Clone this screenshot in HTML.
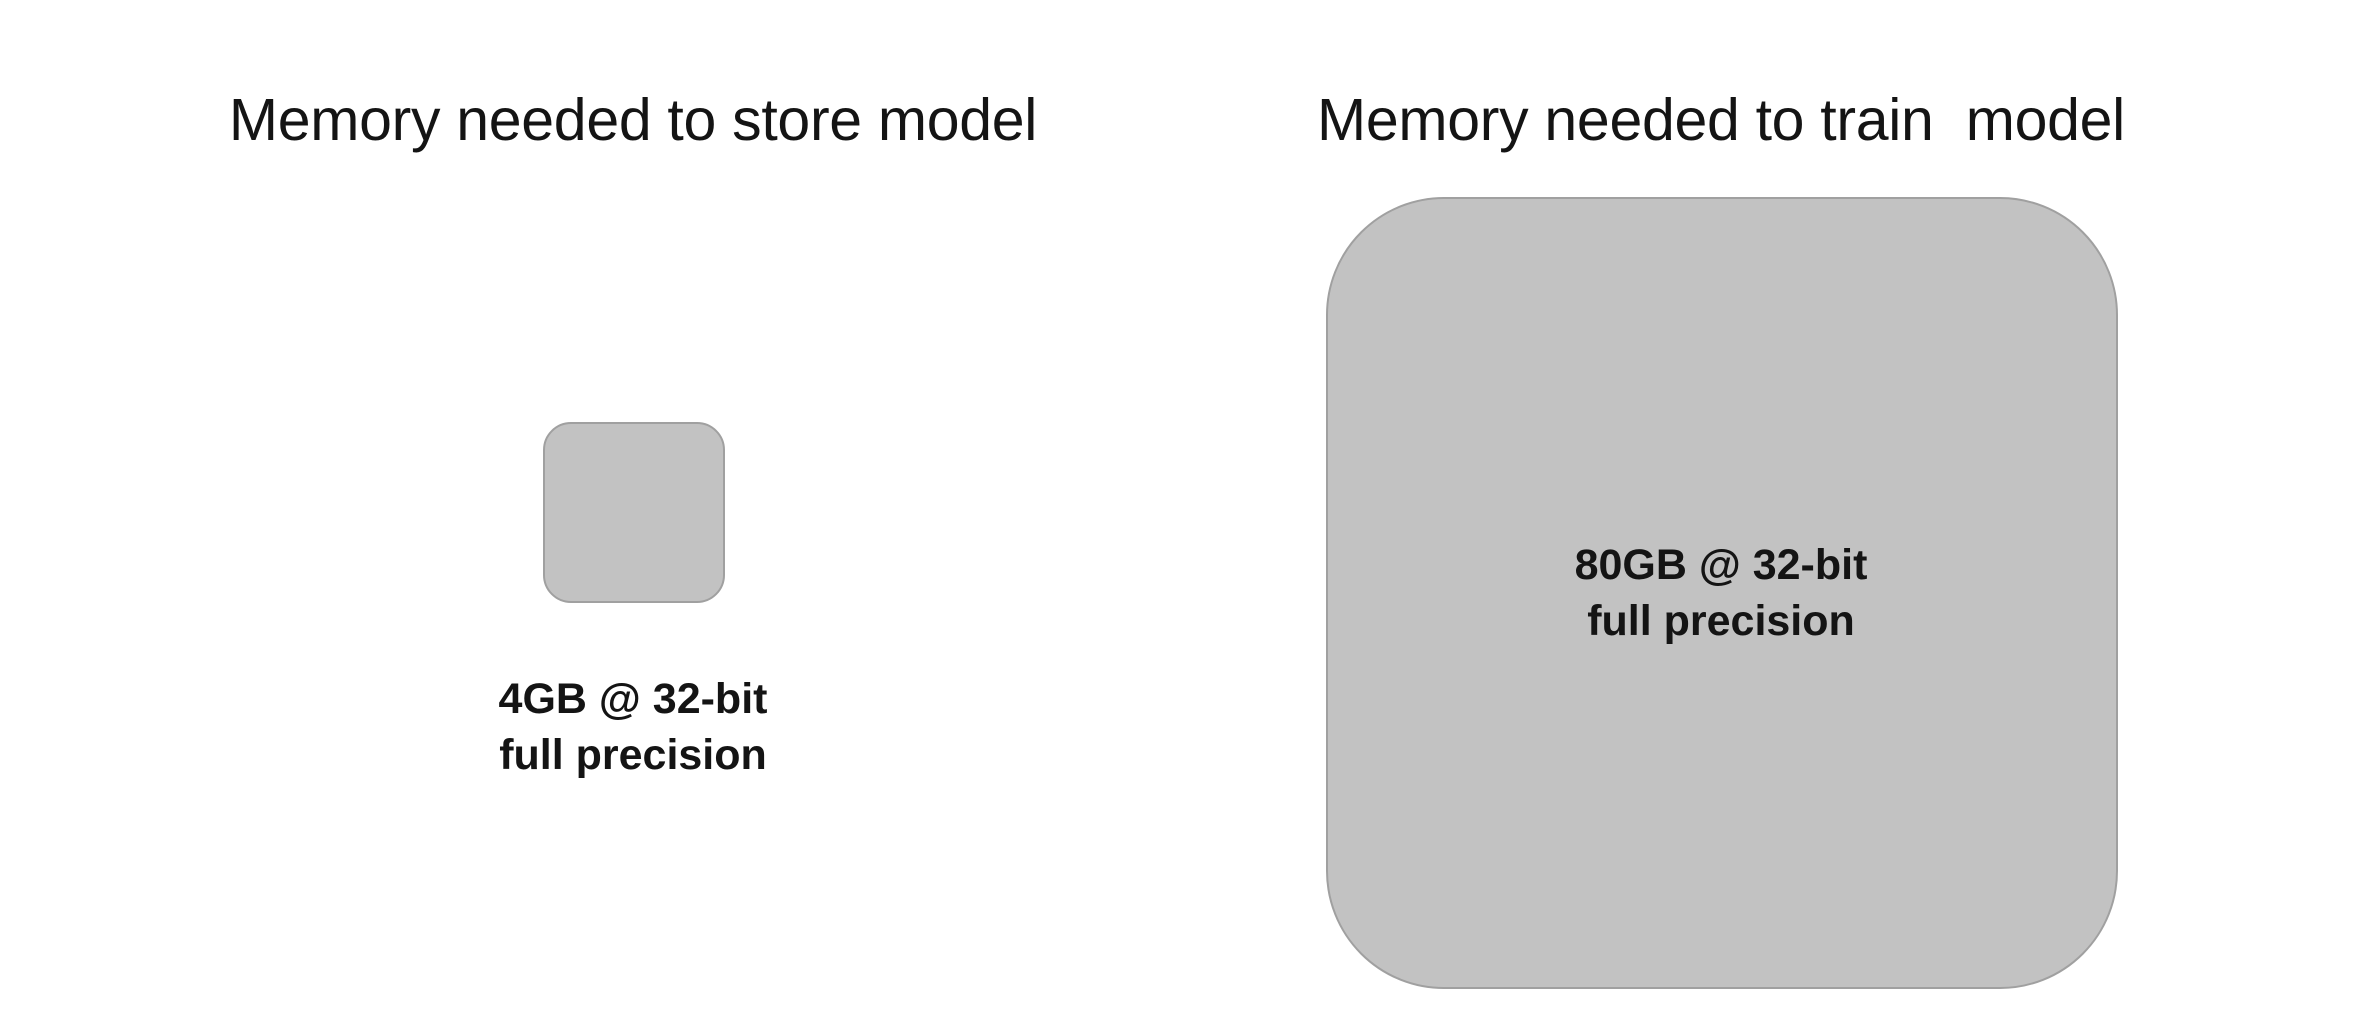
<!DOCTYPE html>
<html><head><meta charset="utf-8"><style>
body{margin:0;width:2374px;height:1020px;background:#fff;position:relative;overflow:hidden;font-family:"Liberation Sans",sans-serif;color:#141414}
.t{position:absolute;font-size:59px;white-space:nowrap;transform:translateX(-50%);top:86px;letter-spacing:-0.3px}
.b{position:absolute;background:#c2c2c2;border:2px solid #a0a0a0;box-sizing:border-box}
.l{position:absolute;font-size:43px;font-weight:bold;text-align:center;line-height:56px;transform:translateX(-50%);white-space:nowrap}
</style></head><body>
<div class="t" style="left:633px">Memory needed to store model</div>
<div class="t" style="left:1721px">Memory needed to train&nbsp; model</div>
<div class="b" style="left:543px;top:422px;width:182px;height:181px;border-radius:28px"></div>
<div class="b" style="left:1326px;top:197px;width:792px;height:792px;border-radius:118px"></div>
<div class="l" style="left:633px;top:671px">4GB @ 32-bit<br>full precision</div>
<div class="l" style="left:1721px;top:537px">80GB @ 32-bit<br>full precision</div>
</body></html>
